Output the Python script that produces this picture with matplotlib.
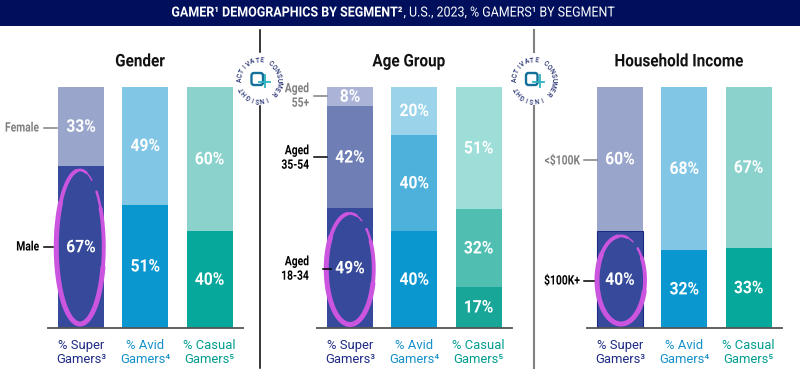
import matplotlib
matplotlib.use("Agg")
import numpy as np
import matplotlib.pyplot as plt
from matplotlib.patches import Circle, FancyBboxPatch, Rectangle
from matplotlib.patheffects import AbstractPathEffect
from matplotlib.transforms import Affine2D


class Squeeze(AbstractPathEffect):
    """Narrow a real text horizontally (condensed look) about its left, centre or right end."""
    def __init__(self, sx, anchor='center'):
        super().__init__()
        self.sx, self.anchor = sx, anchor

    def draw_path(self, renderer, gc, tpath, affine, rgbFace=None):
        xs = tpath.vertices[:, 0]
        if len(xs) == 0:
            return
        c = {'left': xs.min(), 'right': xs.max(), 'center': (xs.min() + xs.max()) / 2}[self.anchor]
        t = Affine2D().translate(-c, 0).scale(self.sx, 1).translate(c, 0)
        renderer.draw_path(gc, tpath, t + affine, rgbFace)


categories = ['% Super\nGamers³', '% Avid\nGamers⁴', '% Casual\nGamers⁵']
panel_titles = ['Gender', 'Age Group', 'Household Income']
gender_values = [[67, 51, 40], [33, 49, 60]]
age_values = [[49, 40, 17], [42, 40, 32], [8, 20, 51]]
income_values = [[40, 32, 33], [60, 68, 67]]

W, H = 800, 374
NAVY = '#000F5C'
FONT = 'Roboto'
fig = plt.figure(figsize=(8, 3.74), dpi=100, facecolor='white')

bg = fig.add_axes([0, 0, 1, 1]); bg.set_xlim(0, W); bg.set_ylim(H, 0); bg.axis('off')
bg.add_patch(Rectangle((0, 0), W, 25.5, color=NAVY, lw=0))
bg.text(402, 12.5, 'GAMER¹ DEMOGRAPHICS BY SEGMENT²', color='white', fontsize=10, fontweight='bold',
        family=FONT, ha='right', va='center', path_effects=[Squeeze(0.9, 'right')])
bg.text(403.5, 12.5, ', U.S., 2023, % GAMERS¹ BY SEGMENT', color='white', fontsize=10,
        family=FONT, ha='left', va='center', path_effects=[Squeeze(0.895, 'left')])

colors = [
    [['#36499B', '#9AA5CC'], ['#0A97D0', '#82C6E6'], ['#05A89A', '#8BD2CC']],
    [['#36499B', '#6F7FB5', '#ABB3D6'], ['#0A97D0', '#4DB1DC', '#9AD3EA'], ['#17A697', '#50BFB2', '#9DDED8']],
    [['#36499B', '#9AA5CC'], ['#0A97D0', '#82C6E6'], ['#05A89A', '#8BD2CC']],
]
label_colors = ['#1E2A85', '#1590C9', '#009C90']
x_left = [48, 317, 587]
all_values = [gender_values, age_values, income_values]
STEP = 64.3
for p, vals in enumerate(all_values):
    ax = fig.add_axes([x_left[p] / W, 1 - 327.5 / H, 195 / W, 241 / H])
    ax.patch.set_alpha(0)
    ax.set_xlim(-33 / STEP, 162 / STEP); ax.set_ylim(0, 100)
    vals = np.array(vals, float)
    for c in range(3):
        total = vals[:, c].sum(); bottom = 0
        for s in range(vals.shape[0]):
            h = vals[s, c] / total * 100
            edge = '#1B2A80' if (p == 2 and c == 0 and s == 0) else 'none'
            ax.bar(c, h, 0.716, bottom=bottom, color=colors[p][c][s], edgecolor=edge, lw=0.8 if edge != 'none' else 0)
            ax.text(c, bottom + h / 2 - 0.4, f'{int(vals[s, c])}%', color='white', fontsize=12.5,
                    fontweight='bold', family=FONT, ha='center', va='center',
                    path_effects=[Squeeze(0.9)])
            bottom += h
    for s in ['top', 'left', 'right']:
        ax.spines[s].set_visible(False)
    ax.spines['bottom'].set_color('#555555'); ax.spines['bottom'].set_linewidth(1.3)
    ax.set_yticks([]); ax.set_xticks(range(3))
    ax.set_xticklabels(categories, family=FONT, fontsize=9.4, linespacing=1.1)
    ax.tick_params(axis='x', length=0, pad=8)
    for t, col in zip(ax.get_xticklabels(), label_colors):
        t.set_color(col)
    ax.set_title(panel_titles[p], family=FONT, fontweight='bold', fontsize=12.5, color='#111111',
                 x=92 / 195, y=1.0, pad=14.5, path_effects=[Squeeze(0.88)])

ov = fig.add_axes([0, 0, 1, 1]); ov.set_xlim(0, W); ov.set_ylim(H, 0); ov.axis('off'); ov.patch.set_alpha(0)
PURPLE = '#CC55E0'


def stroke(cx, cy, w, h, a0, a1, lw):
    t = np.radians(np.linspace(a0, a1, 80))
    ov.plot(cx + w / 2 * np.cos(t), cy + h / 2 * np.sin(t), color=PURPLE, lw=lw, solid_capstyle='round')


for cx, cy, w, h in [(80, 247, 47.5, 154), (350, 269, 47.5, 111), (621, 280, 48, 88)]:
    stroke(cx, cy, w, h, -46, -30, 1.8)
    stroke(cx, cy, w, h, -30, 15, 2.8)
    stroke(cx, cy, w, h, 15, 215, 3.6)
    stroke(cx, cy, w, h, 215, 262, 2.8)
    stroke(cx, cy, w, h, 262, 285, 2.0)
    stroke(cx, cy, w, h, 285, 300, 1.0)

for x, col in [(259.5, 'black'), (534, '#808080')]:
    lw = 1.1 if col == 'black' else 1.5
    ov.plot([x, x], [30, 52], color=col, lw=lw)
    ov.plot([x, x], [106, 368], color=col, lw=lw)
    cy = 80
    ov.add_patch(Circle((x, cy), 22.5, color='white', lw=0, zorder=3))
    s = 'ACTIVATE CONSUMER INSIGHT '
    for i, ch in enumerate(s):
        a = 180 - i * 360 / len(s)
        r = 19.5
        ov.text(x + r * np.cos(np.radians(a)), cy - r * np.sin(np.radians(a)), ch, rotation=a - 90,
                rotation_mode='anchor', ha='center', va='center', fontsize=4.8, color='#1E2A6E',
                family=FONT, fontweight='medium', zorder=4)
    ov.add_patch(FancyBboxPatch((x - 8, cy - 7), 11.5, 12, boxstyle='round,pad=0,rounding_size=2.5', fc='none',
                                ec='#12709A', lw=1.7, zorder=4))
    ov.plot([x - 1, x + 10], [cy + 1.5, cy + 1.5], color='#2BB3C0', lw=1.3, zorder=5)
    ov.plot([x + 5.5, x + 5.5], [cy - 5, cy + 7], color='#2BB3C0', lw=1.3, zorder=5)

GREY = '#808080'
seg_labels = [
    ('Female', 5, 128, GREY, 44, 57, 127.5, 'left'),
    ('Male', 39, 247, 'black', 44, 53, 247, 'right'),
    ('Aged\n55+', 309, 96, GREY, 314, 327, 96, 'right'),
    ('Aged\n35-54', 309, 158, 'black', 314, 327, 157, 'right'),
    ('Aged\n18-34', 309, 269, 'black', 323, 331, 268.5, 'right'),
    ('<$100K', 580, 161, GREY, 584, 597, 160, 'right'),
    ('$100K+', 580, 281, 'black', 584, 594, 281, 'right'),
]
for txt, xa, y, col, x0, x1, ly, ha in seg_labels:
    ov.text(xa, y, txt, color=col, fontsize=9.4, fontweight='bold', family=FONT, ha=ha, va='center',
            multialignment=ha, linespacing=1.15, path_effects=[Squeeze(0.79, ha)])
    ov.plot([x0, x1], [ly, ly], color=col, lw=1.1)

fig.savefig('out.png', dpi=100)
